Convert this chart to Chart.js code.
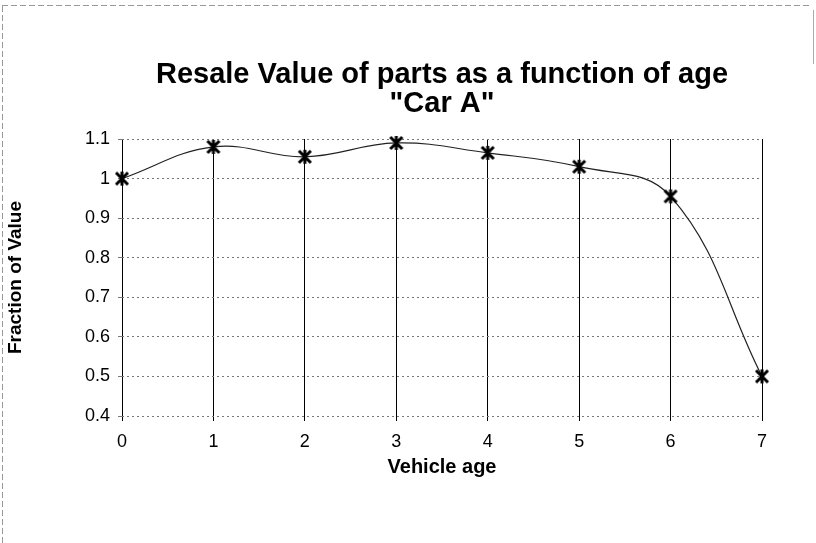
<!DOCTYPE html>
<html>
<head>
<meta charset="utf-8">
<script src="https://cdn.jsdelivr.net/npm/chart.js@4.4.1/dist/chart.umd.min.js"></script>
<style>
html,body{margin:0;padding:0;background:#fff;}
#wrap{width:816px;height:543px;position:relative;}
</style>
</head>
<body>
<div id="wrap"><canvas id="c" width="816" height="543"></canvas></div>
<script>
const titleLines = ['Resale Value of parts as a function of age', '"Car A"'];
const xAxisTitle = 'Vehicle age';
const yAxisTitle = 'Fraction of Value';
const ages = [0, 1, 2, 3, 4, 5, 6, 7];
const fractionOfValue = [1.0, 1.08, 1.055, 1.09, 1.065, 1.03, 0.955, 0.5];
const yTicks = [0.4, 0.5, 0.6, 0.7, 0.8, 0.9, 1, 1.1];

// asterisk-like marker
const mk = document.createElement('canvas');
mk.width = 18; mk.height = 18;
(function(){
  const g = mk.getContext('2d');
  g.strokeStyle = '#000'; g.lineWidth = 3; g.lineCap = 'butt';
  g.beginPath();
  g.moveTo(3,3); g.lineTo(15,15);
  g.moveTo(15,3); g.lineTo(3,15);
  g.moveTo(9,2); g.lineTo(9,16);
  g.stroke();
})();

const framePlugin = {
  id: 'frame',
  beforeDraw(chart) {
    const ctx = chart.ctx;
    ctx.save();
    ctx.strokeStyle = '#999';
    ctx.lineWidth = 1;
    ctx.setLineDash([6, 3]);
    ctx.beginPath();
    ctx.moveTo(2.5, 6); ctx.lineTo(2.5, 543);
    ctx.moveTo(2, 5.5); ctx.lineTo(810, 5.5);
    ctx.stroke();
    ctx.setLineDash([]);
    ctx.strokeStyle = '#aaa';
    ctx.beginPath();
    ctx.moveTo(813.5, 10); ctx.lineTo(813.5, 64);
    ctx.stroke();
    ctx.restore();
  }
};

const FONT = "'Liberation Sans', Arial, sans-serif";

new Chart(document.getElementById('c'), {
  type: 'line',
  data: {
    labels: ages,
    datasets: [{
      data: ages.map((a, i) => ({x: a, y: fractionOfValue[i]})),
      borderColor: '#222',
      borderWidth: 1.2,
      tension: 0.4,
      fill: false,
      clip: false,
      pointStyle: mk,
      pointRadius: 9,
      pointHoverRadius: 9
    }]
  },
  options: {
    responsive: false,
    animation: false,
    devicePixelRatio: 1,
    layout: { padding: { left: 0, right: 54, top: 0, bottom: 0 } },
    plugins: {
      legend: { display: false },
      tooltip: { enabled: false },
      title: {
        display: true,
        fullSize: false,
        text: titleLines,
        color: '#000',
        font: { family: FONT, size: 29, weight: 'bold', lineHeight: 1.0 },
        padding: { top: 60, bottom: 21 }
      }
    },
    scales: {
      x: {
        type: 'linear',
        min: 0, max: 7,
        afterBuildTicks(scale) { scale.ticks = ages.map(v => ({value: v})); },
        afterFit(scale) { scale.height = 127; },
        ticks: {
          color: '#000',
          font: { family: FONT, size: 18 },
          padding: 10,
          maxRotation: 0,
          callback: v => String(v)
        },
        grid: { color: '#000', lineWidth: 1, tickLength: 5, drawTicks: true },
        border: { display: false },
        title: {
          display: true,
          text: xAxisTitle,
          color: '#000',
          font: { family: FONT, size: 20, weight: 'bold' },
          padding: { top: 2, bottom: 64 }
        }
      },
      y: {
        type: 'linear',
        min: 0.4, max: 1.1,
        afterBuildTicks(scale) { scale.ticks = yTicks.map(v => ({value: v})); },
        afterFit(scale) { scale.width = 122; },
        ticks: {
          color: '#000',
          font: { family: FONT, size: 18 },
          padding: 8,
          callback: v => String(Math.round(v * 10) / 10)
        },
        grid: { color: '#777', lineWidth: 1, tickLength: 4 },
        border: { display: false, dash: [2, 3] },
        title: {
          display: true,
          text: yAxisTitle,
          color: '#000',
          font: { family: FONT, size: 19, weight: 'bold' },
          padding: { top: 4, bottom: 4 }
        }
      }
    }
  },
  plugins: [framePlugin]
});
</script>
</body>
</html>
